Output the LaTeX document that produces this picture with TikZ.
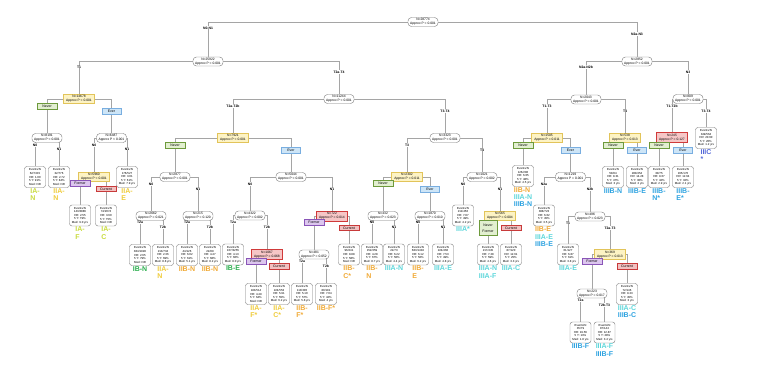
\documentclass[tikz,border=0pt]{standalone}
\usepackage{fontspec}
\setmainfont{Liberation Sans}
\usetikzlibrary{backgrounds}
\definecolor{lgray}{RGB}{165,165,165}
\definecolor{bgray}{RGB}{120,120,120}
\definecolor{yfill}{RGB}{253,243,196}
\definecolor{ybord}{RGB}{226,196,90}
\definecolor{rfill}{RGB}{246,198,198}
\definecolor{rbord}{RGB}{208,58,58}
\definecolor{nfill}{RGB}{226,239,208}
\definecolor{nbord}{RGB}{109,154,60}
\definecolor{efill}{RGB}{205,229,247}
\definecolor{ebord}{RGB}{121,174,224}
\definecolor{ffill}{RGB}{220,198,238}
\definecolor{fbord}{RGB}{138,85,184}
\definecolor{cfill}{RGB}{242,192,192}
\definecolor{cbord}{RGB}{200,58,58}
\definecolor{cIA}{RGB}{200,218,60}
\definecolor{cIIA}{RGB}{239,203,58}
\definecolor{cIIB}{RGB}{240,169,53}
\definecolor{cIB}{RGB}{43,174,78}
\definecolor{cIIIA}{RGB}{92,214,218}
\definecolor{cIIIB}{RGB}{47,163,224}
\definecolor{cIIIC}{RGB}{84,104,216}
\newcommand\evt[4]{Events/N\\#1\\HR: #2\\5 Y: #3\%\\Med: #4}
\newcommand\nap[2]{N=#1\\Approx P #2}
\tikzset{
 nbase/.style={font=\fontsize{3.3}{3.8}\selectfont, align=center, inner sep=0.4pt},
 intn/.style={nbase, draw=bgray, rounded corners=3.5pt, fill=white, minimum width=30pt, minimum height=9pt, line width=0.4pt},
 yel/.style={nbase, draw=ybord, fill=yfill, minimum width=31pt, minimum height=9.5pt, line width=0.6pt},
 redn/.style={nbase, draw=rbord, fill=rfill, minimum width=31pt, minimum height=10pt, line width=0.9pt},
 leaf/.style={draw=bgray, rounded corners=2.5pt, fill=white, minimum width=21pt, minimum height=21pt, inner sep=0.3pt, align=center, font=\fontsize{2.9}{3.6}\selectfont, line width=0.4pt},
 nev/.style={nbase, font=\fontsize{3.5}{3.9}\selectfont, draw=nbord, fill=nfill, minimum width=20pt, minimum height=6pt, inner sep=0.2pt, line width=0.6pt},
 evr/.style={nbase, font=\fontsize{3.5}{3.9}\selectfont, draw=ebord, fill=efill, minimum width=19pt, minimum height=6pt, inner sep=0.2pt, line width=0.6pt},
 frm/.style={nbase, font=\fontsize{3.5}{3.9}\selectfont, draw=fbord, fill=ffill, minimum width=20pt, minimum height=5.5pt, inner sep=0.2pt, line width=0.6pt},
 cur/.style={nbase, font=\fontsize{3.5}{3.9}\selectfont, draw=cbord, fill=cfill, minimum width=20pt, minimum height=5.5pt, inner sep=0.2pt, line width=0.6pt},
 el/.style={font=\bfseries\fontsize{3.4}{3.8}\selectfont, fill=white, inner sep=0.3pt},
 cls/.style={font=\bfseries\fontsize{7}{7.3}\selectfont, align=left, anchor=north, inner sep=0pt},
 conn/.style={draw=lgray, line width=0.7pt}
}
\begin{document}
\begin{tikzpicture}[x=1pt,y=-1pt]
\useasboundingbox (0,0) rectangle (760,379);
% internal nodes
\node[intn] (R) at (423,22) {\nap{28774}{< 0.001}};
\node[intn] (A) at (208,61.5) {\nap{25922}{< 0.001}};
\node[intn] (B) at (637,61.5) {\nap{2852}{< 0.001}};
\node[yel] (C) at (79,99) {\nap{14678}{< 0.001}};
\node[intn] (E) at (47,138) {\nap{8191}{< 0.001}};
\node[intn] (F) at (111.5,138) {\nap{6487}{< 0.001}};
\node[yel] (G) at (94,177) {\nap{5960}{< 0.001}};
\node[intn] (D) at (339,99) {\nap{11244}{< 0.001}};
\node[yel] (K) at (233,138) {\nap{7921}{< 0.001}};
\node[intn] (H) at (175,177) {\nap{2877}{< 0.001}};
\node[intn] (L) at (291,177) {\nap{5044}{< 0.001}};
\node[intn] (I) at (151,216) {\nap{2662}{= 0.021}};
\node[intn] (J) at (198,216) {\nap{215}{= 0.120}};
\node[intn] (M) at (250,215.5) {\nap{4322}{= 0.002}};
\node[redn] (O) at (332,216) {\nap{722}{= 0.014}};
\node[redn] (N) at (267,254.5) {\nap{1067}{= 0.068}};
\node[intn] (P) at (314,254.5) {\nap{481}{= 0.052}};
\node[intn] (Q) at (445,138) {\nap{3323}{< 0.001}};
\node[yel] (S) at (407,177) {\nap{2302}{= 0.011}};
\node[intn] (V) at (482,177) {\nap{1021}{= 0.002}};
\node[intn] (T) at (383,216) {\nap{432}{= 0.023}};
\node[intn] (U) at (430,216) {\nap{1870}{= 0.010}};
\node[yel] (X) at (500,216) {\nap{565}{= 0.004}};
\node[intn] (Y) at (586,99.5) {\nap{2043}{< 0.001}};
\node[intn] (AN) at (688,99) {\nap{809}{< 0.001}};
\node[yel] (Z) at (547,138) {\nap{1505}{= 0.011}};
\node[yel] (AK) at (625,138) {\nap{538}{= 0.013}};
\node[intn] (AB) at (570.5,177) {\nap{1219}{= 0.001}};
\node[intn] (AD) at (590,216.5) {\nap{496}{= 0.023}};
\node[yel] (AF) at (610,254.5) {\nap{369}{= 0.013}};
\node[intn] (AH) at (592,293.5) {\nap{223}{= 0.017}};
\node[redn] (AO) at (672,137.5) {\nap{245}{= 0.127}};
% smoking boxes on the connectors
\node[nev] (nC) at (47,106) {Never};
\node[evr] (eC) at (111.5,111) {Ever};
\node[frm] (fG) at (80,183.5) {Former};
\node[cur] (cG) at (106,189) {Current};
\node[nev] (nK) at (175,145) {Never};
\node[evr] (eK) at (291,150) {Ever};
\node[frm] (fN) at (256,261.5) {Former};
\node[cur] (cN) at (279,266.5) {Current};
\node[frm] (fO) at (314,222.5) {Former};
\node[cur] (cO) at (349,228) {Current};
\node[nev] (nS) at (383,183) {Never};
\node[evr] (eS) at (430,189) {Ever};
\node[nev, minimum width=18pt, minimum height=15pt] (nfX) at (488,228) {Never\\[2pt]Former};
\node[cur] (cX) at (511,228) {Current};
\node[nev] (nZ) at (523,145.5) {Never};
\node[evr] (eZ) at (570.5,150) {Ever};
\node[frm] (fAF) at (592,261.5) {Former};
\node[cur] (cAF) at (627,266.5) {Current};
\node[nev] (nAK) at (613,145) {Never};
\node[evr] (eAK) at (637,150) {Ever};
\node[nev] (nAO) at (659,145) {Never};
\node[evr] (eAO) at (683,150) {Ever};
% leaves
\node[leaf] (L1) at (35,177) {\evt{62/7415}{1.00}{91}{NR}};
\node[leaf] (L2) at (59,177) {\evt{32/776}{2.72}{84}{NR}};
\node[leaf] (L3) at (127,177) {\evt{176/527}{3.01}{61}{7.9 yrs}};
\node[leaf] (L4) at (80,215.5) {\evt{143/3886}{2.55}{79}{9.0 yrs}};
\node[leaf] (L5) at (106,215.5) {\evt{74/2074}{3.60}{75}{NR}};
\node[leaf] (L6) at (140,255) {\evt{384/1928}{2.65}{79}{NR}};
\node[leaf] (L7) at (163,255) {\evt{213/734}{2.36}{69}{8.8 yrs}};
\node[leaf] (L8) at (187,255) {\evt{44/126}{6.02}{61}{5.1 yrs}};
\node[leaf] (L9) at (210,255) {\evt{22/89}{4.47}{68}{8.2 yrs}};
\node[leaf] (L10) at (233,254.5) {\evt{167/3255}{4.13}{66}{8.0 yrs}};
\node[leaf] (L11) at (256,294) {\evt{183/514}{4.49}{64}{NR}};
\node[leaf] (L12) at (279,294) {\evt{224/553}{5.91}{55}{6.2 yrs}};
\node[leaf] (L13) at (349,254.5) {\evt{96/241}{8.88}{58}{NR}};
\node[leaf] (L14) at (302,294) {\evt{113/300}{5.10}{57}{5.8 yrs}};
\node[leaf] (L15) at (326,294) {\evt{80/181}{7.04}{42}{4 yrs}};
\node[leaf] (L16) at (372,254.5) {\evt{152/359}{4.28}{67}{8.7 yrs}};
\node[leaf] (L17) at (394,254.5) {\evt{22/73}{6.22}{50}{4.4 yrs}};
\node[leaf] (L18) at (418,254.5) {\evt{683/1404}{6.12}{56}{6.2 yrs}};
\node[leaf] (L19) at (443,254.5) {\evt{224/466}{7.53}{49}{4.8 yrs}};
\node[leaf] (W) at (463,215.5) {\evt{211/456}{7.87}{49}{4.2 yrs}};
\node[leaf] (L20) at (488,254.5) {\evt{217/445}{7.28}{59}{4.6 yrs}};
\node[leaf] (L21) at (511,254.5) {\evt{87/120}{12.61}{25}{3.3 yrs}};
\node[leaf] (AA) at (523,176) {\evt{126/286}{6.05}{48}{4.5 yrs}};
\node[leaf] (AC) at (544,215.5) {\evt{388/723}{6.62}{45}{3.5 yrs}};
\node[leaf] (AE) at (568,254.5) {\evt{61/127}{6.87}{61}{3.8 yrs}};
\node[leaf] (AG) at (627,294) {\evt{72/146}{9.23}{45}{3 yrs}};
\node[leaf] (AI) at (580.5,332.5) {\evt{35/79}{19.56}{13}{1.8 yrs}};
\node[leaf] (AJ) at (604.5,332.5) {\evt{87/144}{12.87}{28}{3.4 yrs}};
\node[leaf] (AL) at (613,177) {\evt{50/84}{8.31}{47}{3 yrs}};
\node[leaf] (AM) at (637,177) {\evt{280/454}{14.28}{30}{2 yrs}};
\node[leaf] (AP) at (659,177) {\evt{30/75}{9.67}{42}{2.9 yrs}};
\node[leaf] (AQ) at (683,177) {\evt{165/170}{12.64}{32}{2.1 yrs}};
\node[leaf] (AR) at (706,138) {\evt{349/564}{20.60}{20}{1.2 yrs}};
% connectors
\begin{scope}[on background layer]
\foreach \p/\c in {R/A,R/B,A/C,A/D,C/E,C/F,E/L1,E/L2,F/G,F/L3,G/L4,G/L5,D/K,D/Q,K/H,K/L,H/I,H/J,I/L6,I/L7,J/L8,J/L9,L/M,L/O,M/L10,M/N,N/L11,N/L12,O/P,O/L13,P/L14,P/L15,Q/S,Q/V,S/T,S/U,T/L16,T/L17,U/L18,U/L19,V/W,V/X,X/L20,X/L21,B/Y,B/AN,Y/Z,Y/AK,Z/AA,Z/AB,AB/AC,AB/AD,AD/AE,AD/AF,AF/AH,AF/AG,AH/AI,AH/AJ,AK/AL,AK/AM,AN/AO,AN/AR,AO/AP,AO/AQ}
  \draw[conn] (\p.center) -| (\c.north);
\end{scope}
% connector labels
\node[el] (e1) at (208,28) {N0-N1};
\node[el] (e2) at (637,34) {N2a-N3};
\node[el] (e3) at (79,67) {T1};
\node[el] (e4) at (339,72) {T2a-T4};
\node[el] (e5) at (586,67) {N2a-N2b};
\node[el] (e6) at (688,72) {N3};
\node[el] (e7) at (35,145) {N0};
\node[el] (e8) at (59,149) {N1};
\node[el] (e9) at (94,145) {N0};
\node[el] (e10) at (127,149) {N1};
\node[el] (e11) at (233,106) {T2a-T2b};
\node[el] (e12) at (445,111) {T3-T4};
\node[el] (e13) at (151,184) {N0};
\node[el] (e14) at (198,189) {N1};
\node[el] (e15) at (140,222.5) {T2a};
\node[el] (e16) at (163,227) {T2b};
\node[el] (e17) at (187,222.5) {T2a};
\node[el] (e18) at (210,227) {T2b};
\node[el] (e19) at (250,184) {N0};
\node[el] (e20) at (332,189) {N1};
\node[el] (e21) at (233,222) {T2a};
\node[el] (e22) at (267,227) {T2b};
\node[el] (e23) at (302,261) {T2a};
\node[el] (e24) at (326,266) {T2b};
\node[el] (e25) at (407,145) {T3};
\node[el] (e26) at (482,150) {T4};
\node[el] (e27) at (372,222.5) {N0};
\node[el] (e28) at (394,227) {N1};
\node[el] (e29) at (418,222.5) {N0};
\node[el] (e30) at (443,227) {N1};
\node[el] (e31) at (463,184) {N0};
\node[el] (e32) at (500,189) {N1};
\node[el] (e33) at (547,106) {T1-T3};
\node[el] (e34) at (625,111) {T4};
\node[el] (e35) at (544,184) {N2a};
\node[el] (e36) at (590,189) {N2b};
\node[el] (e37) at (568,223) {T1};
\node[el] (e38) at (610,228) {T2a-T3};
\node[el] (e39) at (580.5,300) {T2a};
\node[el] (e40) at (604.5,305) {T2b-T3};
\node[el] (e41) at (672,106) {T1-T2b};
\node[el] (e42) at (706,111) {T3-T4};
% stage labels
\node[cls,text=cIA] (k1) at ([yshift=-0.6pt]L1.south) {IA-\\N};
\node[cls,text=cIIA] (k2) at ([yshift=-0.6pt]L2.south) {IIA-\\N};
\node[cls,text=cIIA] (k3) at ([yshift=-0.6pt]L3.south) {IIA-\\E};
\node[cls,text=cIA] (k4) at ([yshift=-0.6pt]L4.south) {IA-\\F};
\node[cls,text=cIA] (k5) at ([yshift=-0.6pt]L5.south) {IA-\\C};
\node[cls,text=cIB] (k6) at ([yshift=-0.6pt]L6.south) {IB-N};
\node[cls,text=cIIA] (k7) at ([yshift=-0.6pt]L7.south) {IIA-\\N};
\node[cls,text=cIIB] (k8) at ([yshift=-0.6pt]L8.south) {IIB-N};
\node[cls,text=cIIB] (k9) at ([yshift=-0.6pt]L9.south) {IIB-N};
\node[cls,text=cIB] (k10) at ([yshift=-0.6pt]L10.south) {IB-E};
\node[cls,text=cIIA] (k11) at ([yshift=-0.6pt]L11.south) {IIA-\\F*};
\node[cls,text=cIIA] (k12) at ([yshift=-0.6pt]L12.south) {IIA-\\C*};
\node[cls,text=cIIB] (k13) at ([yshift=-0.6pt]L13.south) {IIB-\\C*};
\node[cls,text=cIIB] (k14) at ([yshift=-0.6pt]L14.south) {IIB-\\F*};
\node[cls,text=cIIB] (k15) at ([yshift=-0.6pt]L15.south) {IIB-F*};
\node[cls,text=cIIB] (k16) at ([yshift=-0.6pt]L16.south) {IIB-\\N};
\node[cls,text=cIIIA] (k17) at ([yshift=-0.6pt]L17.south) {IIIA-N};
\node[cls,text=cIIB] (k18) at ([yshift=-0.6pt]L18.south) {IIB-\\E};
\node[cls,text=cIIIA] (k19) at ([yshift=-0.6pt]L19.south) {IIIA-E};
\node[cls,text=cIIIA] (k20) at ([yshift=-0.6pt]W.south) {IIIA*};
\node[cls,text=cIIIA] (k21) at ([yshift=-0.6pt]L20.south) {IIIA-N\\IIIA-F};
\node[cls,text=cIIIA] (k22) at ([yshift=-0.6pt]L21.south) {IIIA-C};
\node[cls] (k23) at ([yshift=-0.6pt]AA.south) {\textcolor{cIIB}{IIB-N}\\\textcolor{cIIIA}{IIIA-N}\\\textcolor{cIIIB}{IIIB-N}};
\node[cls] (k24) at ([yshift=-0.6pt]AC.south) {\textcolor{cIIB}{IIB-E}\\\textcolor{cIIIA}{IIIA-E}\\\textcolor{cIIIB}{IIIB-E}};
\node[cls,text=cIIIA] (k25) at ([yshift=-0.6pt]AE.south) {IIIA-E};
\node[cls] (k26) at ([yshift=-0.6pt]AG.south) {\textcolor{cIIIA}{IIIA-C}\\\textcolor{cIIIB}{IIIB-C}};
\node[cls,text=cIIIB] (k27) at ([yshift=-0.6pt]AI.south) {IIIB-F};
\node[cls] (k28) at ([yshift=-0.6pt]AJ.south) {\textcolor{cIIIA}{IIIA-F}\\\textcolor{cIIIB}{IIIB-F}};
\node[cls,text=cIIIB] (k29) at ([yshift=-0.6pt]AL.south) {IIIB-N};
\node[cls,text=cIIIB] (k30) at ([yshift=-0.6pt]AM.south) {IIIB-E};
\node[cls,text=cIIIB] (k31) at ([yshift=-0.6pt]AP.south) {IIIB-\\N*};
\node[cls,text=cIIIB] (k32) at ([yshift=-0.6pt]AQ.south) {IIIB-\\E*};
\node[cls,text=cIIIC] (k33) at ([yshift=-0.6pt]AR.south) {IIIC\\*};
\end{tikzpicture}
\end{document}
